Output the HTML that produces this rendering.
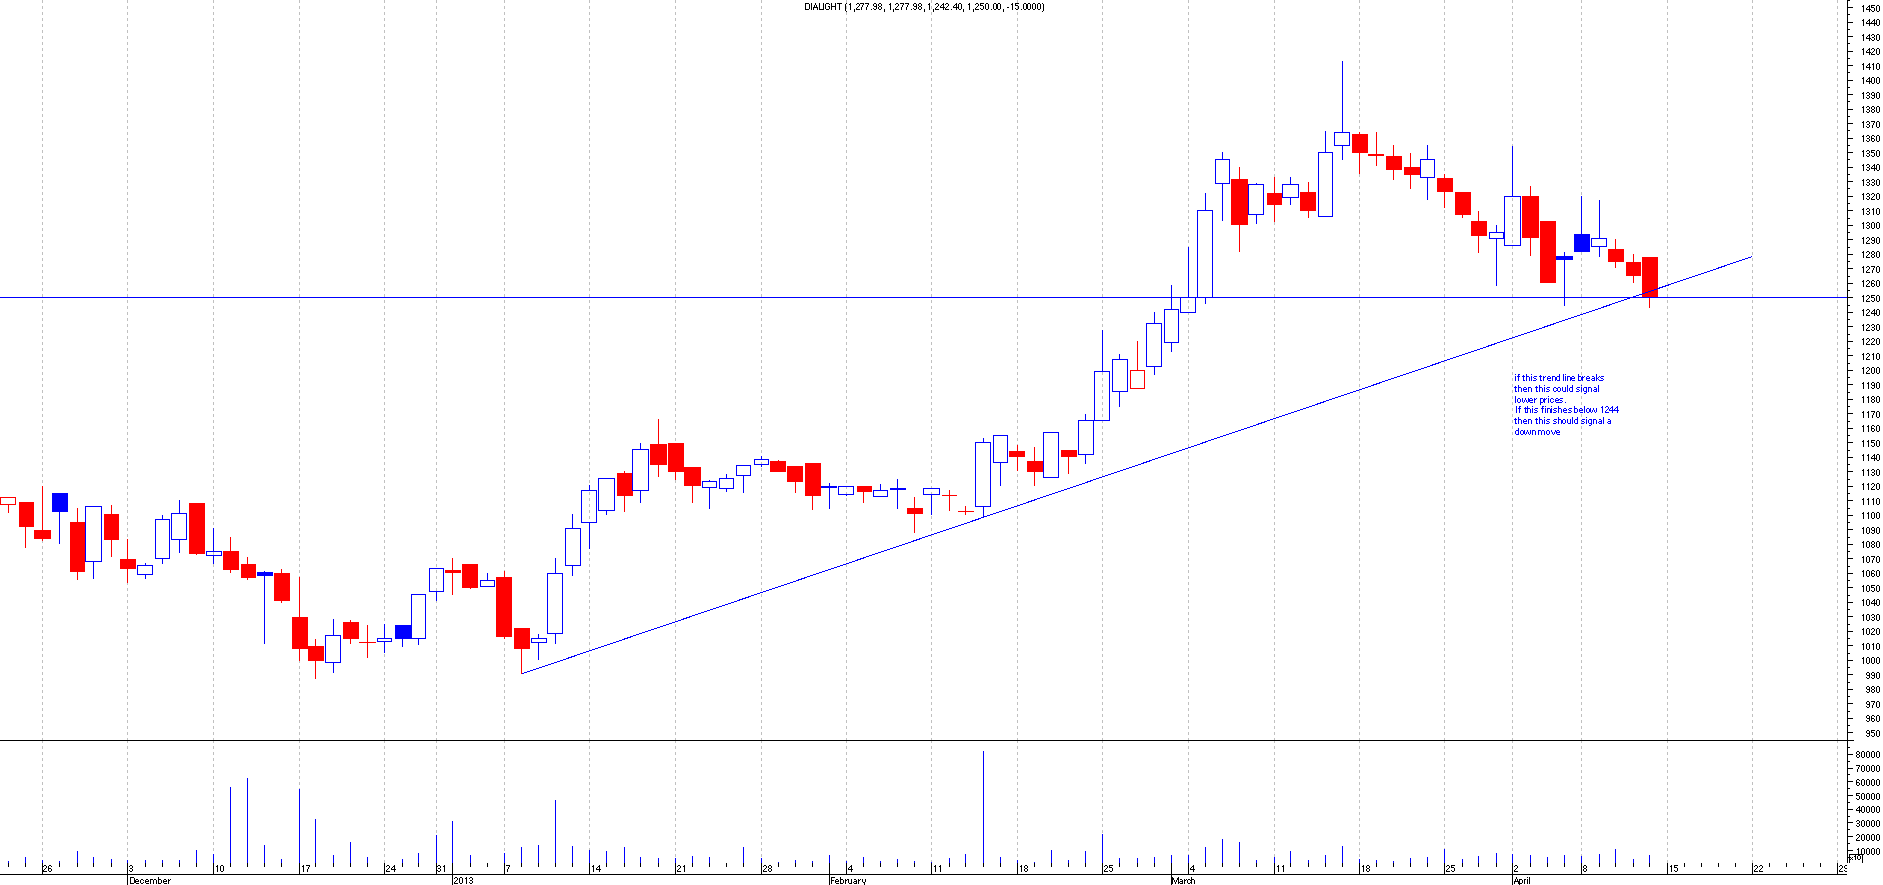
<!DOCTYPE html>
<html><head><meta charset="utf-8"><title>DIALIGHT</title>
<style>html,body{margin:0;padding:0;background:#fff;overflow:hidden}body{width:1883px;height:885px;font-family:"Liberation Sans",sans-serif}</style></head>
<body>
<svg width="1883" height="885" viewBox="0 0 1883 885" shape-rendering="crispEdges" style="display:block">
<rect width="1883" height="885" fill="#fff"/>
<defs>
<path id="d0" d="M1 0h2v1h-2zM0 1h1v1h-1zM3 1h1v1h-1zM0 2h1v1h-1zM3 2h1v1h-1zM0 3h1v1h-1zM3 3h1v1h-1zM0 4h1v1h-1zM3 4h1v1h-1zM0 5h1v1h-1zM3 5h1v1h-1zM1 6h2v1h-2z"/>
<path id="d1" d="M2 0h1v1h-1zM1 1h2v1h-2zM2 2h1v1h-1zM2 3h1v1h-1zM2 4h1v1h-1zM2 5h1v1h-1zM2 6h1v1h-1z"/>
<path id="d2" d="M1 0h2v1h-2zM0 1h1v1h-1zM3 1h1v1h-1zM3 2h1v1h-1zM2 3h1v1h-1zM1 4h1v1h-1zM0 5h1v1h-1zM0 6h4v1h-4z"/>
<path id="d3" d="M1 0h2v1h-2zM0 1h1v1h-1zM3 1h1v1h-1zM3 2h1v1h-1zM1 3h2v1h-2zM3 4h1v1h-1zM0 5h1v1h-1zM3 5h1v1h-1zM1 6h2v1h-2z"/>
<path id="d4" d="M3 0h1v1h-1zM2 1h2v1h-2zM1 2h1v1h-1zM3 2h1v1h-1zM0 3h1v1h-1zM3 3h1v1h-1zM0 4h5v1h-5zM3 5h1v1h-1zM3 6h1v1h-1z"/>
<path id="d5" d="M0 0h4v1h-4zM0 1h1v1h-1zM0 2h3v1h-3zM3 3h1v1h-1zM3 4h1v1h-1zM0 5h1v1h-1zM3 5h1v1h-1zM1 6h2v1h-2z"/>
<path id="d6" d="M1 0h2v1h-2zM0 1h1v1h-1zM3 1h1v1h-1zM0 2h1v1h-1zM0 3h3v1h-3zM0 4h1v1h-1zM3 4h1v1h-1zM0 5h1v1h-1zM3 5h1v1h-1zM1 6h2v1h-2z"/>
<path id="d7" d="M0 0h4v1h-4zM3 1h1v1h-1zM2 2h1v1h-1zM2 3h1v1h-1zM1 4h1v1h-1zM1 5h1v1h-1zM1 6h1v1h-1z"/>
<path id="d8" d="M1 0h2v1h-2zM0 1h1v1h-1zM3 1h1v1h-1zM0 2h1v1h-1zM3 2h1v1h-1zM1 3h2v1h-2zM0 4h1v1h-1zM3 4h1v1h-1zM0 5h1v1h-1zM3 5h1v1h-1zM1 6h2v1h-2z"/>
<path id="d9" d="M1 0h2v1h-2zM0 1h1v1h-1zM3 1h1v1h-1zM0 2h1v1h-1zM3 2h1v1h-1zM1 3h3v1h-3zM3 4h1v1h-1zM0 5h1v1h-1zM3 5h1v1h-1zM1 6h2v1h-2z"/>
<path id="g28" d="M1 0h1v1h-1zM0 1h1v1h-1zM0 2h1v1h-1zM0 3h1v1h-1zM0 4h1v1h-1zM0 5h1v1h-1zM0 6h1v1h-1zM0 7h1v1h-1zM1 8h1v1h-1z"/><path id="g29" d="M0 0h1v1h-1zM1 1h1v1h-1zM1 2h1v1h-1zM1 3h1v1h-1zM1 4h1v1h-1zM1 5h1v1h-1zM1 6h1v1h-1zM1 7h1v1h-1zM0 8h1v1h-1z"/><path id="g2c" d="M0 6h1v1h-1zM0 7h1v1h-1zM0 8h1v1h-1z"/><path id="g2d" d="M0 4h2v1h-2z"/><path id="g2e" d="M0 6h1v1h-1z"/><path id="g30" d="M1 0h2v1h-2zM0 1h1v1h-1zM3 1h1v1h-1zM0 2h1v1h-1zM3 2h1v1h-1zM0 3h1v1h-1zM3 3h1v1h-1zM0 4h1v1h-1zM3 4h1v1h-1zM0 5h1v1h-1zM3 5h1v1h-1zM1 6h2v1h-2z"/><path id="g31" d="M1 0h1v1h-1zM0 1h2v1h-2zM1 2h1v1h-1zM1 3h1v1h-1zM1 4h1v1h-1zM1 5h1v1h-1zM1 6h1v1h-1z"/><path id="g32" d="M1 0h2v1h-2zM0 1h1v1h-1zM3 1h1v1h-1zM3 2h1v1h-1zM2 3h1v1h-1zM1 4h1v1h-1zM0 5h1v1h-1zM0 6h4v1h-4z"/><path id="g33" d="M1 0h2v1h-2zM0 1h1v1h-1zM3 1h1v1h-1zM3 2h1v1h-1zM1 3h2v1h-2zM3 4h1v1h-1zM0 5h1v1h-1zM3 5h1v1h-1zM1 6h2v1h-2z"/><path id="g34" d="M3 0h1v1h-1zM2 1h2v1h-2zM1 2h1v1h-1zM3 2h1v1h-1zM0 3h1v1h-1zM3 3h1v1h-1zM0 4h5v1h-5zM3 5h1v1h-1zM3 6h1v1h-1z"/><path id="g35" d="M0 0h4v1h-4zM0 1h1v1h-1zM0 2h3v1h-3zM3 3h1v1h-1zM3 4h1v1h-1zM0 5h1v1h-1zM3 5h1v1h-1zM1 6h2v1h-2z"/><path id="g36" d="M1 0h2v1h-2zM0 1h1v1h-1zM3 1h1v1h-1zM0 2h1v1h-1zM0 3h3v1h-3zM0 4h1v1h-1zM3 4h1v1h-1zM0 5h1v1h-1zM3 5h1v1h-1zM1 6h2v1h-2z"/><path id="g37" d="M0 0h4v1h-4zM3 1h1v1h-1zM2 2h1v1h-1zM2 3h1v1h-1zM1 4h1v1h-1zM1 5h1v1h-1zM1 6h1v1h-1z"/><path id="g38" d="M1 0h2v1h-2zM0 1h1v1h-1zM3 1h1v1h-1zM0 2h1v1h-1zM3 2h1v1h-1zM1 3h2v1h-2zM0 4h1v1h-1zM3 4h1v1h-1zM0 5h1v1h-1zM3 5h1v1h-1zM1 6h2v1h-2z"/><path id="g39" d="M1 0h2v1h-2zM0 1h1v1h-1zM3 1h1v1h-1zM0 2h1v1h-1zM3 2h1v1h-1zM1 3h3v1h-3zM3 4h1v1h-1zM0 5h1v1h-1zM3 5h1v1h-1zM1 6h2v1h-2z"/><path id="g41" d="M2 0h1v1h-1zM2 1h1v1h-1zM1 2h1v1h-1zM3 2h1v1h-1zM1 3h1v1h-1zM3 3h1v1h-1zM0 4h5v1h-5zM0 5h1v1h-1zM4 5h1v1h-1zM0 6h1v1h-1zM4 6h1v1h-1z"/><path id="g44" d="M0 0h4v1h-4zM0 1h1v1h-1zM4 1h1v1h-1zM0 2h1v1h-1zM4 2h1v1h-1zM0 3h1v1h-1zM4 3h1v1h-1zM0 4h1v1h-1zM4 4h1v1h-1zM0 5h1v1h-1zM4 5h1v1h-1zM0 6h4v1h-4z"/><path id="g46" d="M0 0h4v1h-4zM0 1h1v1h-1zM0 2h1v1h-1zM0 3h3v1h-3zM0 4h1v1h-1zM0 5h1v1h-1zM0 6h1v1h-1z"/><path id="g47" d="M1 0h3v1h-3zM0 1h1v1h-1zM4 1h1v1h-1zM0 2h1v1h-1zM0 3h1v1h-1zM3 3h2v1h-2zM0 4h1v1h-1zM4 4h1v1h-1zM0 5h1v1h-1zM4 5h1v1h-1zM1 6h3v1h-3z"/><path id="g48" d="M0 0h1v1h-1zM4 0h1v1h-1zM0 1h1v1h-1zM4 1h1v1h-1zM0 2h1v1h-1zM4 2h1v1h-1zM0 3h5v1h-5zM0 4h1v1h-1zM4 4h1v1h-1zM0 5h1v1h-1zM4 5h1v1h-1zM0 6h1v1h-1zM4 6h1v1h-1z"/><path id="g49" d="M0 0h1v1h-1zM0 1h1v1h-1zM0 2h1v1h-1zM0 3h1v1h-1zM0 4h1v1h-1zM0 5h1v1h-1zM0 6h1v1h-1z"/><path id="g4c" d="M0 0h1v1h-1zM0 1h1v1h-1zM0 2h1v1h-1zM0 3h1v1h-1zM0 4h1v1h-1zM0 5h1v1h-1zM0 6h4v1h-4z"/><path id="g4d" d="M0 0h1v1h-1zM6 0h1v1h-1zM0 1h2v1h-2zM5 1h2v1h-2zM0 2h2v1h-2zM5 2h2v1h-2zM0 3h1v1h-1zM2 3h1v1h-1zM4 3h1v1h-1zM6 3h1v1h-1zM0 4h1v1h-1zM2 4h1v1h-1zM4 4h1v1h-1zM6 4h1v1h-1zM0 5h1v1h-1zM3 5h1v1h-1zM6 5h1v1h-1zM0 6h1v1h-1zM3 6h1v1h-1zM6 6h1v1h-1z"/><path id="g54" d="M0 0h5v1h-5zM2 1h1v1h-1zM2 2h1v1h-1zM2 3h1v1h-1zM2 4h1v1h-1zM2 5h1v1h-1zM2 6h1v1h-1z"/><path id="g61" d="M1 2h2v1h-2zM3 3h1v1h-1zM1 4h3v1h-3zM0 5h1v1h-1zM3 5h1v1h-1zM1 6h3v1h-3z"/><path id="g62" d="M0 0h1v1h-1zM0 1h1v1h-1zM0 2h3v1h-3zM0 3h1v1h-1zM3 3h1v1h-1zM0 4h1v1h-1zM3 4h1v1h-1zM0 5h1v1h-1zM3 5h1v1h-1zM0 6h3v1h-3z"/><path id="g63" d="M1 2h2v1h-2zM0 3h1v1h-1zM3 3h1v1h-1zM0 4h1v1h-1zM0 5h1v1h-1zM3 5h1v1h-1zM1 6h2v1h-2z"/><path id="g64" d="M3 0h1v1h-1zM3 1h1v1h-1zM1 2h3v1h-3zM0 3h1v1h-1zM3 3h1v1h-1zM0 4h1v1h-1zM3 4h1v1h-1zM0 5h1v1h-1zM3 5h1v1h-1zM1 6h3v1h-3z"/><path id="g65" d="M1 2h2v1h-2zM0 3h1v1h-1zM3 3h1v1h-1zM0 4h4v1h-4zM0 5h1v1h-1zM1 6h3v1h-3z"/><path id="g66" d="M1 0h2v1h-2zM1 1h1v1h-1zM0 2h3v1h-3zM1 3h1v1h-1zM1 4h1v1h-1zM1 5h1v1h-1zM1 6h1v1h-1z"/><path id="g67" d="M1 2h3v1h-3zM0 3h1v1h-1zM3 3h1v1h-1zM0 4h1v1h-1zM3 4h1v1h-1zM0 5h1v1h-1zM3 5h1v1h-1zM1 6h3v1h-3zM3 7h1v1h-1zM1 8h2v1h-2z"/><path id="g68" d="M0 0h1v1h-1zM0 1h1v1h-1zM0 2h3v1h-3zM0 3h1v1h-1zM3 3h1v1h-1zM0 4h1v1h-1zM3 4h1v1h-1zM0 5h1v1h-1zM3 5h1v1h-1zM0 6h1v1h-1zM3 6h1v1h-1z"/><path id="g69" d="M0 0h1v1h-1zM0 2h1v1h-1zM0 3h1v1h-1zM0 4h1v1h-1zM0 5h1v1h-1zM0 6h1v1h-1z"/><path id="g6b" d="M0 0h1v1h-1zM0 1h1v1h-1zM0 2h1v1h-1zM3 2h1v1h-1zM0 3h1v1h-1zM2 3h1v1h-1zM0 4h2v1h-2zM0 5h1v1h-1zM2 5h1v1h-1zM0 6h1v1h-1zM3 6h1v1h-1z"/><path id="g6c" d="M0 0h1v1h-1zM0 1h1v1h-1zM0 2h1v1h-1zM0 3h1v1h-1zM0 4h1v1h-1zM0 5h1v1h-1zM0 6h1v1h-1z"/><path id="g6d" d="M0 2h3v1h-3zM4 2h2v1h-2zM0 3h1v1h-1zM3 3h1v1h-1zM6 3h1v1h-1zM0 4h1v1h-1zM3 4h1v1h-1zM6 4h1v1h-1zM0 5h1v1h-1zM3 5h1v1h-1zM6 5h1v1h-1zM0 6h1v1h-1zM3 6h1v1h-1zM6 6h1v1h-1z"/><path id="g6e" d="M0 2h3v1h-3zM0 3h1v1h-1zM3 3h1v1h-1zM0 4h1v1h-1zM3 4h1v1h-1zM0 5h1v1h-1zM3 5h1v1h-1zM0 6h1v1h-1zM3 6h1v1h-1z"/><path id="g6f" d="M1 2h2v1h-2zM0 3h1v1h-1zM3 3h1v1h-1zM0 4h1v1h-1zM3 4h1v1h-1zM0 5h1v1h-1zM3 5h1v1h-1zM1 6h2v1h-2z"/><path id="g70" d="M0 2h3v1h-3zM0 3h1v1h-1zM3 3h1v1h-1zM0 4h1v1h-1zM3 4h1v1h-1zM0 5h1v1h-1zM3 5h1v1h-1zM0 6h3v1h-3zM0 7h1v1h-1zM0 8h1v1h-1z"/><path id="g71" d="M0 2h2v1h-2zM0 3h1v1h-1zM0 4h1v1h-1zM0 5h1v1h-1zM0 6h1v1h-1z"/><path id="g72" d="M0 2h1v1h-1zM2 2h1v1h-1zM0 3h2v1h-2zM0 4h1v1h-1zM0 5h1v1h-1zM0 6h1v1h-1z"/><path id="g73" d="M1 2h3v1h-3zM0 3h1v1h-1zM1 4h2v1h-2zM3 5h1v1h-1zM0 6h3v1h-3z"/><path id="g74" d="M1 1h1v1h-1zM0 2h3v1h-3zM1 3h1v1h-1zM1 4h1v1h-1zM1 5h1v1h-1zM1 6h2v1h-2z"/><path id="g75" d="M0 2h1v1h-1zM3 2h1v1h-1zM0 3h1v1h-1zM3 3h1v1h-1zM0 4h1v1h-1zM3 4h1v1h-1zM0 5h1v1h-1zM3 5h1v1h-1zM1 6h3v1h-3z"/><path id="g76" d="M0 2h1v1h-1zM4 2h1v1h-1zM0 3h1v1h-1zM4 3h1v1h-1zM1 4h1v1h-1zM3 4h1v1h-1zM1 5h1v1h-1zM3 5h1v1h-1zM2 6h1v1h-1z"/><path id="g77" d="M0 2h1v1h-1zM3 2h1v1h-1zM6 2h1v1h-1zM0 3h1v1h-1zM3 3h1v1h-1zM6 3h1v1h-1zM0 4h1v1h-1zM2 4h1v1h-1zM4 4h1v1h-1zM6 4h1v1h-1zM0 5h1v1h-1zM2 5h1v1h-1zM4 5h1v1h-1zM6 5h1v1h-1zM1 6h1v1h-1zM5 6h1v1h-1z"/><path id="g79" d="M0 2h1v1h-1zM3 2h1v1h-1zM0 3h1v1h-1zM3 3h1v1h-1zM0 4h1v1h-1zM3 4h1v1h-1zM1 5h2v1h-2zM2 6h1v1h-1zM2 7h1v1h-1zM0 8h2v1h-2z"/>
<filter id="gs" x="0" y="0" width="100%" height="100%" filterUnits="userSpaceOnUse"><feOffset dx="0" dy="0"/></filter>
</defs>
<g stroke="#c0c0c0" stroke-width="1" stroke-dasharray="3 3" fill="none">
<path d="M42.5 0V740"/><path d="M42.5 740V863"/>
<path d="M127.5 0V740"/><path d="M127.5 740V863"/>
<path d="M213.5 0V740"/><path d="M213.5 740V863"/>
<path d="M299.5 0V740"/><path d="M299.5 740V863"/>
<path d="M384.5 0V740"/><path d="M384.5 740V863"/>
<path d="M436.5 0V740"/><path d="M436.5 740V863"/>
<path d="M504.5 0V740"/><path d="M504.5 740V863"/>
<path d="M589.5 0V740"/><path d="M589.5 740V863"/>
<path d="M675.5 0V740"/><path d="M675.5 740V863"/>
<path d="M761.5 0V740"/><path d="M761.5 740V863"/>
<path d="M846.5 0V740"/><path d="M846.5 740V863"/>
<path d="M931.5 0V740"/><path d="M931.5 740V863"/>
<path d="M1017.5 0V740"/><path d="M1017.5 740V863"/>
<path d="M1102.5 0V740"/><path d="M1102.5 740V863"/>
<path d="M1188.5 0V740"/><path d="M1188.5 740V863"/>
<path d="M1274.5 0V740"/><path d="M1274.5 740V863"/>
<path d="M1359.5 0V740"/><path d="M1359.5 740V863"/>
<path d="M1444.5 0V740"/><path d="M1444.5 740V863"/>
<path d="M1512.5 0V740"/><path d="M1512.5 740V863"/>
<path d="M1581.5 0V740"/><path d="M1581.5 740V863"/>
<path d="M1667.5 0V740"/><path d="M1667.5 740V863"/>
<path d="M1752.5 0V740"/><path d="M1752.5 740V863"/>
<path d="M1837.5 0V740"/><path d="M1837.5 740V863"/>
</g>
<rect x="0.5" y="497.5" width="15" height="7" fill="none" stroke="#ff0000" stroke-width="1"/>
<rect x="8" y="505" width="1" height="8" fill="#ff0000"/>
<rect x="19" y="502" width="15" height="25" fill="#ff0000"/>
<rect x="25" y="527" width="1" height="21" fill="#ff0000"/>
<rect x="34" y="530" width="17" height="9" fill="#ff0000"/>
<rect x="42" y="486" width="1" height="44" fill="#ff0000"/>
<rect x="42" y="539" width="1" height="2" fill="#ff0000"/>
<rect x="52" y="493" width="16" height="19" fill="#0000ff"/>
<rect x="59" y="512" width="1" height="32" fill="#0000ff"/>
<rect x="70" y="522" width="15" height="50" fill="#ff0000"/>
<rect x="77" y="508" width="1" height="14" fill="#ff0000"/>
<rect x="77" y="572" width="1" height="8" fill="#ff0000"/>
<rect x="85.5" y="506.5" width="16" height="55" fill="none" stroke="#0000ff" stroke-width="1"/>
<rect x="93" y="562" width="1" height="17" fill="#0000ff"/>
<rect x="104" y="514" width="15" height="26" fill="#ff0000"/>
<rect x="111" y="505" width="1" height="9" fill="#ff0000"/>
<rect x="111" y="540" width="1" height="17" fill="#ff0000"/>
<rect x="120" y="559" width="16" height="10" fill="#ff0000"/>
<rect x="127" y="539" width="1" height="20" fill="#ff0000"/>
<rect x="127" y="569" width="1" height="14" fill="#ff0000"/>
<rect x="137.5" y="565.5" width="15" height="9" fill="none" stroke="#0000ff" stroke-width="1"/>
<rect x="145" y="563" width="1" height="2" fill="#0000ff"/>
<rect x="145" y="575" width="1" height="4" fill="#0000ff"/>
<rect x="155.5" y="519.5" width="14" height="39" fill="none" stroke="#0000ff" stroke-width="1"/>
<rect x="162" y="515" width="1" height="4" fill="#0000ff"/>
<rect x="162" y="559" width="1" height="5" fill="#0000ff"/>
<rect x="171.5" y="513.5" width="15" height="26" fill="none" stroke="#0000ff" stroke-width="1"/>
<rect x="179" y="500" width="1" height="13" fill="#0000ff"/>
<rect x="179" y="540" width="1" height="13" fill="#0000ff"/>
<rect x="189" y="503" width="16" height="51" fill="#ff0000"/>
<rect x="196" y="554" width="1" height="1" fill="#ff0000"/>
<rect x="206.5" y="551.5" width="15" height="4" fill="none" stroke="#0000ff" stroke-width="1"/>
<rect x="213" y="528" width="1" height="23" fill="#0000ff"/>
<rect x="213" y="556" width="1" height="8" fill="#0000ff"/>
<rect x="223" y="551" width="16" height="19" fill="#ff0000"/>
<rect x="230" y="537" width="1" height="14" fill="#ff0000"/>
<rect x="230" y="570" width="1" height="3" fill="#ff0000"/>
<rect x="241" y="564" width="15" height="14" fill="#ff0000"/>
<rect x="247" y="557" width="1" height="7" fill="#ff0000"/>
<rect x="247" y="578" width="1" height="2" fill="#ff0000"/>
<rect x="257" y="572" width="16" height="4" fill="#0000ff"/>
<rect x="264" y="571" width="1" height="1" fill="#0000ff"/>
<rect x="264" y="576" width="1" height="68" fill="#0000ff"/>
<rect x="274" y="573" width="16" height="28" fill="#ff0000"/>
<rect x="281" y="569" width="1" height="4" fill="#ff0000"/>
<rect x="281" y="601" width="1" height="2" fill="#ff0000"/>
<rect x="292" y="617" width="16" height="32" fill="#ff0000"/>
<rect x="299" y="577" width="1" height="40" fill="#ff0000"/>
<rect x="299" y="649" width="1" height="12" fill="#ff0000"/>
<rect x="308" y="646" width="16" height="15" fill="#ff0000"/>
<rect x="315" y="639" width="1" height="7" fill="#ff0000"/>
<rect x="315" y="661" width="1" height="18" fill="#ff0000"/>
<rect x="325.5" y="635.5" width="15" height="27" fill="none" stroke="#0000ff" stroke-width="1"/>
<rect x="333" y="619" width="1" height="16" fill="#0000ff"/>
<rect x="333" y="663" width="1" height="10" fill="#0000ff"/>
<rect x="343" y="622" width="16" height="17" fill="#ff0000"/>
<rect x="350" y="620" width="1" height="2" fill="#ff0000"/>
<rect x="350" y="639" width="1" height="5" fill="#ff0000"/>
<rect x="359" y="642" width="17" height="1" fill="#ff0000"/>
<rect x="367" y="625" width="1" height="33" fill="#ff0000"/>
<rect x="377.5" y="638.5" width="14" height="3" fill="none" stroke="#0000ff" stroke-width="1"/>
<rect x="384" y="624" width="1" height="14" fill="#0000ff"/>
<rect x="384" y="642" width="1" height="11" fill="#0000ff"/>
<rect x="395" y="625" width="16" height="14" fill="#0000ff"/>
<rect x="402" y="639" width="1" height="8" fill="#0000ff"/>
<rect x="411.5" y="594.5" width="14" height="44" fill="none" stroke="#0000ff" stroke-width="1"/>
<rect x="418" y="639" width="1" height="6" fill="#0000ff"/>
<rect x="429.5" y="568.5" width="14" height="23" fill="none" stroke="#0000ff" stroke-width="1"/>
<rect x="436" y="592" width="1" height="9" fill="#0000ff"/>
<rect x="445" y="570" width="16" height="3" fill="#ff0000"/>
<rect x="452" y="558" width="1" height="12" fill="#ff0000"/>
<rect x="452" y="573" width="1" height="22" fill="#ff0000"/>
<rect x="462" y="564" width="16" height="24" fill="#ff0000"/>
<rect x="470" y="588" width="1" height="1" fill="#ff0000"/>
<rect x="480.5" y="580.5" width="14" height="6" fill="none" stroke="#0000ff" stroke-width="1"/>
<rect x="487" y="573" width="1" height="7" fill="#0000ff"/>
<rect x="496" y="577" width="16" height="60" fill="#ff0000"/>
<rect x="504" y="571" width="1" height="6" fill="#ff0000"/>
<rect x="504" y="637" width="1" height="2" fill="#ff0000"/>
<rect x="514" y="628" width="16" height="21" fill="#ff0000"/>
<rect x="521" y="649" width="1" height="25" fill="#ff0000"/>
<rect x="531.5" y="638.5" width="15" height="4" fill="none" stroke="#0000ff" stroke-width="1"/>
<rect x="538" y="634" width="1" height="4" fill="#0000ff"/>
<rect x="538" y="643" width="1" height="17" fill="#0000ff"/>
<rect x="547.5" y="573.5" width="15" height="60" fill="none" stroke="#0000ff" stroke-width="1"/>
<rect x="555" y="558" width="1" height="15" fill="#0000ff"/>
<rect x="555" y="634" width="1" height="10" fill="#0000ff"/>
<rect x="565.5" y="528.5" width="15" height="37" fill="none" stroke="#0000ff" stroke-width="1"/>
<rect x="572" y="514" width="1" height="14" fill="#0000ff"/>
<rect x="572" y="566" width="1" height="10" fill="#0000ff"/>
<rect x="581.5" y="490.5" width="15" height="32" fill="none" stroke="#0000ff" stroke-width="1"/>
<rect x="589" y="485" width="1" height="5" fill="#0000ff"/>
<rect x="589" y="523" width="1" height="26" fill="#0000ff"/>
<rect x="598.5" y="478.5" width="16" height="32" fill="none" stroke="#0000ff" stroke-width="1"/>
<rect x="606" y="511" width="1" height="4" fill="#0000ff"/>
<rect x="617" y="473" width="16" height="23" fill="#ff0000"/>
<rect x="624" y="471" width="1" height="2" fill="#ff0000"/>
<rect x="624" y="496" width="1" height="16" fill="#ff0000"/>
<rect x="632.5" y="449.5" width="16" height="41" fill="none" stroke="#0000ff" stroke-width="1"/>
<rect x="640" y="443" width="1" height="6" fill="#0000ff"/>
<rect x="640" y="491" width="1" height="12" fill="#0000ff"/>
<rect x="650" y="444" width="17" height="21" fill="#ff0000"/>
<rect x="658" y="419" width="1" height="25" fill="#ff0000"/>
<rect x="658" y="465" width="1" height="12" fill="#ff0000"/>
<rect x="668" y="443" width="16" height="29" fill="#ff0000"/>
<rect x="675" y="472" width="1" height="8" fill="#ff0000"/>
<rect x="684" y="467" width="17" height="19" fill="#ff0000"/>
<rect x="692" y="486" width="1" height="17" fill="#ff0000"/>
<rect x="702.5" y="481.5" width="14" height="6" fill="none" stroke="#0000ff" stroke-width="1"/>
<rect x="709" y="480" width="1" height="1" fill="#0000ff"/>
<rect x="709" y="488" width="1" height="21" fill="#0000ff"/>
<rect x="719.5" y="478.5" width="14" height="10" fill="none" stroke="#0000ff" stroke-width="1"/>
<rect x="726" y="474" width="1" height="4" fill="#0000ff"/>
<rect x="726" y="489" width="1" height="3" fill="#0000ff"/>
<rect x="736.5" y="465.5" width="14" height="10" fill="none" stroke="#0000ff" stroke-width="1"/>
<rect x="743" y="476" width="1" height="17" fill="#0000ff"/>
<rect x="754.5" y="459.5" width="14" height="5" fill="none" stroke="#0000ff" stroke-width="1"/>
<rect x="761" y="456" width="1" height="3" fill="#0000ff"/>
<rect x="761" y="465" width="1" height="2" fill="#0000ff"/>
<rect x="770" y="461" width="16" height="11" fill="#ff0000"/>
<rect x="778" y="460" width="1" height="1" fill="#ff0000"/>
<rect x="787" y="466" width="16" height="16" fill="#ff0000"/>
<rect x="795" y="482" width="1" height="11" fill="#ff0000"/>
<rect x="805" y="463" width="16" height="33" fill="#ff0000"/>
<rect x="812" y="496" width="1" height="14" fill="#ff0000"/>
<rect x="821" y="486" width="16" height="2" fill="#0000ff"/>
<rect x="829" y="483" width="1" height="3" fill="#0000ff"/>
<rect x="829" y="488" width="1" height="21" fill="#0000ff"/>
<rect x="838.5" y="486.5" width="15" height="8" fill="none" stroke="#0000ff" stroke-width="1"/>
<rect x="846" y="495" width="1" height="1" fill="#0000ff"/>
<rect x="857" y="486" width="15" height="6" fill="#ff0000"/>
<rect x="863" y="492" width="1" height="11" fill="#ff0000"/>
<rect x="873.5" y="490.5" width="14" height="6" fill="none" stroke="#0000ff" stroke-width="1"/>
<rect x="880" y="484" width="1" height="6" fill="#0000ff"/>
<rect x="890" y="488" width="16" height="2" fill="#0000ff"/>
<rect x="897" y="479" width="1" height="9" fill="#0000ff"/>
<rect x="897" y="490" width="1" height="19" fill="#0000ff"/>
<rect x="907" y="508" width="16" height="6" fill="#ff0000"/>
<rect x="914" y="497" width="1" height="11" fill="#ff0000"/>
<rect x="914" y="514" width="1" height="19" fill="#ff0000"/>
<rect x="923.5" y="488.5" width="16" height="6" fill="none" stroke="#0000ff" stroke-width="1"/>
<rect x="931" y="495" width="1" height="20" fill="#0000ff"/>
<rect x="942" y="495" width="15" height="1" fill="#ff0000"/>
<rect x="949" y="490" width="1" height="21" fill="#ff0000"/>
<rect x="958" y="511" width="16" height="1" fill="#ff0000"/>
<rect x="965" y="506" width="1" height="9" fill="#ff0000"/>
<rect x="975.5" y="442.5" width="15" height="64" fill="none" stroke="#0000ff" stroke-width="1"/>
<rect x="983" y="438" width="1" height="4" fill="#0000ff"/>
<rect x="983" y="507" width="1" height="10" fill="#0000ff"/>
<rect x="993.5" y="435.5" width="14" height="27" fill="none" stroke="#0000ff" stroke-width="1"/>
<rect x="1000" y="463" width="1" height="23" fill="#0000ff"/>
<rect x="1009" y="451" width="16" height="6" fill="#ff0000"/>
<rect x="1017" y="445" width="1" height="6" fill="#ff0000"/>
<rect x="1017" y="457" width="1" height="14" fill="#ff0000"/>
<rect x="1027" y="461" width="16" height="11" fill="#ff0000"/>
<rect x="1034" y="447" width="1" height="14" fill="#ff0000"/>
<rect x="1034" y="472" width="1" height="14" fill="#ff0000"/>
<rect x="1043.5" y="432.5" width="15" height="45" fill="none" stroke="#0000ff" stroke-width="1"/>
<rect x="1061" y="450" width="16" height="7" fill="#ff0000"/>
<rect x="1068" y="457" width="1" height="17" fill="#ff0000"/>
<rect x="1078.5" y="420.5" width="15" height="34" fill="none" stroke="#0000ff" stroke-width="1"/>
<rect x="1085" y="414" width="1" height="6" fill="#0000ff"/>
<rect x="1085" y="455" width="1" height="9" fill="#0000ff"/>
<rect x="1094.5" y="371.5" width="15" height="49" fill="none" stroke="#0000ff" stroke-width="1"/>
<rect x="1102" y="330" width="1" height="41" fill="#0000ff"/>
<rect x="1112.5" y="359.5" width="15" height="32" fill="none" stroke="#0000ff" stroke-width="1"/>
<rect x="1119" y="354" width="1" height="5" fill="#0000ff"/>
<rect x="1119" y="392" width="1" height="15" fill="#0000ff"/>
<rect x="1130.5" y="370.5" width="14" height="18" fill="none" stroke="#ff0000" stroke-width="1"/>
<rect x="1137" y="341" width="1" height="29" fill="#ff0000"/>
<rect x="1146.5" y="323.5" width="15" height="43" fill="none" stroke="#0000ff" stroke-width="1"/>
<rect x="1154" y="312" width="1" height="11" fill="#0000ff"/>
<rect x="1154" y="367" width="1" height="8" fill="#0000ff"/>
<rect x="1164.5" y="309.5" width="14" height="33" fill="none" stroke="#0000ff" stroke-width="1"/>
<rect x="1171" y="285" width="1" height="24" fill="#0000ff"/>
<rect x="1171" y="343" width="1" height="9" fill="#0000ff"/>
<rect x="1180.5" y="297.5" width="15" height="15" fill="none" stroke="#0000ff" stroke-width="1"/>
<rect x="1188" y="247" width="1" height="50" fill="#0000ff"/>
<rect x="1197.5" y="210.5" width="15" height="87" fill="none" stroke="#0000ff" stroke-width="1"/>
<rect x="1205" y="193" width="1" height="17" fill="#0000ff"/>
<rect x="1205" y="298" width="1" height="6" fill="#0000ff"/>
<rect x="1215.5" y="159.5" width="14" height="24" fill="none" stroke="#0000ff" stroke-width="1"/>
<rect x="1222" y="152" width="1" height="7" fill="#0000ff"/>
<rect x="1222" y="184" width="1" height="37" fill="#0000ff"/>
<rect x="1231" y="179" width="17" height="46" fill="#ff0000"/>
<rect x="1239" y="167" width="1" height="12" fill="#ff0000"/>
<rect x="1239" y="225" width="1" height="27" fill="#ff0000"/>
<rect x="1248.5" y="184.5" width="15" height="30" fill="none" stroke="#0000ff" stroke-width="1"/>
<rect x="1256" y="183" width="1" height="1" fill="#0000ff"/>
<rect x="1256" y="215" width="1" height="9" fill="#0000ff"/>
<rect x="1267" y="193" width="15" height="12" fill="#ff0000"/>
<rect x="1274" y="177" width="1" height="16" fill="#ff0000"/>
<rect x="1274" y="205" width="1" height="17" fill="#ff0000"/>
<rect x="1282.5" y="184.5" width="16" height="13" fill="none" stroke="#0000ff" stroke-width="1"/>
<rect x="1290" y="177" width="1" height="7" fill="#0000ff"/>
<rect x="1290" y="198" width="1" height="7" fill="#0000ff"/>
<rect x="1300" y="192" width="16" height="19" fill="#ff0000"/>
<rect x="1308" y="182" width="1" height="10" fill="#ff0000"/>
<rect x="1308" y="211" width="1" height="7" fill="#ff0000"/>
<rect x="1318.5" y="152.5" width="14" height="64" fill="none" stroke="#0000ff" stroke-width="1"/>
<rect x="1325" y="131" width="1" height="21" fill="#0000ff"/>
<rect x="1334.5" y="132.5" width="15" height="13" fill="none" stroke="#0000ff" stroke-width="1"/>
<rect x="1342" y="61" width="1" height="71" fill="#0000ff"/>
<rect x="1342" y="146" width="1" height="14" fill="#0000ff"/>
<rect x="1352" y="134" width="16" height="19" fill="#ff0000"/>
<rect x="1359" y="132" width="1" height="2" fill="#ff0000"/>
<rect x="1359" y="153" width="1" height="21" fill="#ff0000"/>
<rect x="1368" y="154" width="16" height="2" fill="#ff0000"/>
<rect x="1376" y="132" width="1" height="34" fill="#ff0000"/>
<rect x="1386" y="156" width="16" height="14" fill="#ff0000"/>
<rect x="1393" y="145" width="1" height="11" fill="#ff0000"/>
<rect x="1393" y="170" width="1" height="10" fill="#ff0000"/>
<rect x="1404" y="167" width="16" height="8" fill="#ff0000"/>
<rect x="1410" y="153" width="1" height="14" fill="#ff0000"/>
<rect x="1410" y="175" width="1" height="14" fill="#ff0000"/>
<rect x="1420.5" y="159.5" width="14" height="18" fill="none" stroke="#0000ff" stroke-width="1"/>
<rect x="1427" y="145" width="1" height="14" fill="#0000ff"/>
<rect x="1427" y="178" width="1" height="22" fill="#0000ff"/>
<rect x="1437" y="178" width="16" height="14" fill="#ff0000"/>
<rect x="1444" y="174" width="1" height="4" fill="#ff0000"/>
<rect x="1444" y="192" width="1" height="16" fill="#ff0000"/>
<rect x="1455" y="192" width="16" height="23" fill="#ff0000"/>
<rect x="1462" y="215" width="1" height="3" fill="#ff0000"/>
<rect x="1471" y="221" width="16" height="15" fill="#ff0000"/>
<rect x="1478" y="211" width="1" height="10" fill="#ff0000"/>
<rect x="1478" y="236" width="1" height="17" fill="#ff0000"/>
<rect x="1489.5" y="232.5" width="14" height="6" fill="none" stroke="#0000ff" stroke-width="1"/>
<rect x="1496" y="225" width="1" height="7" fill="#0000ff"/>
<rect x="1496" y="239" width="1" height="47" fill="#0000ff"/>
<rect x="1504.5" y="196.5" width="16" height="49" fill="none" stroke="#0000ff" stroke-width="1"/>
<rect x="1512" y="146" width="1" height="50" fill="#0000ff"/>
<rect x="1522" y="196" width="17" height="42" fill="#ff0000"/>
<rect x="1530" y="186" width="1" height="10" fill="#ff0000"/>
<rect x="1530" y="238" width="1" height="18" fill="#ff0000"/>
<rect x="1540" y="221" width="16" height="62" fill="#ff0000"/>
<rect x="1556" y="256" width="17" height="4" fill="#0000ff"/>
<rect x="1564" y="252" width="1" height="4" fill="#0000ff"/>
<rect x="1564" y="260" width="1" height="46" fill="#0000ff"/>
<rect x="1574" y="234" width="16" height="18" fill="#0000ff"/>
<rect x="1581" y="196" width="1" height="38" fill="#0000ff"/>
<rect x="1591.5" y="238.5" width="15" height="8" fill="none" stroke="#0000ff" stroke-width="1"/>
<rect x="1599" y="200" width="1" height="38" fill="#0000ff"/>
<rect x="1599" y="247" width="1" height="10" fill="#0000ff"/>
<rect x="1608" y="249" width="16" height="13" fill="#ff0000"/>
<rect x="1615" y="239" width="1" height="10" fill="#ff0000"/>
<rect x="1615" y="262" width="1" height="6" fill="#ff0000"/>
<rect x="1626" y="262" width="15" height="14" fill="#ff0000"/>
<rect x="1633" y="254" width="1" height="8" fill="#ff0000"/>
<rect x="1633" y="276" width="1" height="7" fill="#ff0000"/>
<rect x="1642" y="257" width="16" height="41" fill="#ff0000"/>
<rect x="1649" y="298" width="1" height="10" fill="#ff0000"/>
<rect x="0" y="297" width="1847" height="1" fill="#0000ff"/>
<line x1="521.7" y1="673.9" x2="1752.5" y2="256.5" stroke="#0000ff" stroke-width="1"/>
<rect x="0" y="740" width="1854" height="1" fill="#000"/>
<rect x="8" y="861" width="1" height="2" fill="#0000ff"/>
<rect x="25" y="857" width="1" height="6" fill="#0000ff"/>
<rect x="42" y="860" width="1" height="3" fill="#0000ff"/>
<rect x="59" y="861" width="1" height="2" fill="#0000ff"/>
<rect x="77" y="851" width="1" height="12" fill="#0000ff"/>
<rect x="93" y="857" width="1" height="6" fill="#0000ff"/>
<rect x="111" y="859" width="1" height="4" fill="#0000ff"/>
<rect x="127" y="860" width="1" height="3" fill="#0000ff"/>
<rect x="145" y="860" width="1" height="3" fill="#0000ff"/>
<rect x="162" y="860" width="1" height="3" fill="#0000ff"/>
<rect x="179" y="860" width="1" height="3" fill="#0000ff"/>
<rect x="196" y="850" width="1" height="13" fill="#0000ff"/>
<rect x="213" y="854" width="1" height="9" fill="#0000ff"/>
<rect x="230" y="787" width="1" height="76" fill="#0000ff"/>
<rect x="247" y="778" width="1" height="85" fill="#0000ff"/>
<rect x="264" y="845" width="1" height="18" fill="#0000ff"/>
<rect x="281" y="859" width="1" height="4" fill="#0000ff"/>
<rect x="299" y="789" width="1" height="74" fill="#0000ff"/>
<rect x="315" y="819" width="1" height="44" fill="#0000ff"/>
<rect x="333" y="855" width="1" height="8" fill="#0000ff"/>
<rect x="350" y="842" width="1" height="21" fill="#0000ff"/>
<rect x="367" y="857" width="1" height="6" fill="#0000ff"/>
<rect x="402" y="859" width="1" height="4" fill="#0000ff"/>
<rect x="418" y="853" width="1" height="10" fill="#0000ff"/>
<rect x="436" y="835" width="1" height="28" fill="#0000ff"/>
<rect x="452" y="821" width="1" height="42" fill="#0000ff"/>
<rect x="470" y="855" width="1" height="8" fill="#0000ff"/>
<rect x="504" y="853" width="1" height="10" fill="#0000ff"/>
<rect x="521" y="847" width="1" height="16" fill="#0000ff"/>
<rect x="538" y="845" width="1" height="18" fill="#0000ff"/>
<rect x="555" y="800" width="1" height="63" fill="#0000ff"/>
<rect x="572" y="846" width="1" height="17" fill="#0000ff"/>
<rect x="589" y="850" width="1" height="13" fill="#0000ff"/>
<rect x="606" y="851" width="1" height="12" fill="#0000ff"/>
<rect x="624" y="847" width="1" height="16" fill="#0000ff"/>
<rect x="640" y="857" width="1" height="6" fill="#0000ff"/>
<rect x="658" y="858" width="1" height="5" fill="#0000ff"/>
<rect x="675" y="858" width="1" height="5" fill="#0000ff"/>
<rect x="692" y="856" width="1" height="7" fill="#0000ff"/>
<rect x="709" y="857" width="1" height="6" fill="#0000ff"/>
<rect x="743" y="847" width="1" height="16" fill="#0000ff"/>
<rect x="761" y="858" width="1" height="5" fill="#0000ff"/>
<rect x="778" y="862" width="1" height="1" fill="#0000ff"/>
<rect x="795" y="860" width="1" height="3" fill="#0000ff"/>
<rect x="812" y="861" width="1" height="2" fill="#0000ff"/>
<rect x="829" y="855" width="1" height="8" fill="#0000ff"/>
<rect x="846" y="861" width="1" height="2" fill="#0000ff"/>
<rect x="863" y="857" width="1" height="6" fill="#0000ff"/>
<rect x="880" y="861" width="1" height="2" fill="#0000ff"/>
<rect x="897" y="859" width="1" height="4" fill="#0000ff"/>
<rect x="914" y="861" width="1" height="2" fill="#0000ff"/>
<rect x="931" y="862" width="1" height="1" fill="#0000ff"/>
<rect x="949" y="858" width="1" height="5" fill="#0000ff"/>
<rect x="965" y="854" width="1" height="9" fill="#0000ff"/>
<rect x="983" y="751" width="1" height="112" fill="#0000ff"/>
<rect x="1000" y="857" width="1" height="6" fill="#0000ff"/>
<rect x="1017" y="860" width="1" height="3" fill="#0000ff"/>
<rect x="1034" y="862" width="1" height="1" fill="#0000ff"/>
<rect x="1051" y="850" width="1" height="13" fill="#0000ff"/>
<rect x="1068" y="860" width="1" height="3" fill="#0000ff"/>
<rect x="1085" y="851" width="1" height="12" fill="#0000ff"/>
<rect x="1102" y="834" width="1" height="29" fill="#0000ff"/>
<rect x="1119" y="858" width="1" height="5" fill="#0000ff"/>
<rect x="1137" y="858" width="1" height="5" fill="#0000ff"/>
<rect x="1154" y="857" width="1" height="6" fill="#0000ff"/>
<rect x="1171" y="855" width="1" height="8" fill="#0000ff"/>
<rect x="1188" y="855" width="1" height="8" fill="#0000ff"/>
<rect x="1205" y="847" width="1" height="16" fill="#0000ff"/>
<rect x="1222" y="839" width="1" height="24" fill="#0000ff"/>
<rect x="1239" y="842" width="1" height="21" fill="#0000ff"/>
<rect x="1256" y="860" width="1" height="3" fill="#0000ff"/>
<rect x="1274" y="857" width="1" height="6" fill="#0000ff"/>
<rect x="1290" y="851" width="1" height="12" fill="#0000ff"/>
<rect x="1308" y="860" width="1" height="3" fill="#0000ff"/>
<rect x="1325" y="855" width="1" height="8" fill="#0000ff"/>
<rect x="1342" y="846" width="1" height="17" fill="#0000ff"/>
<rect x="1359" y="859" width="1" height="4" fill="#0000ff"/>
<rect x="1376" y="860" width="1" height="3" fill="#0000ff"/>
<rect x="1393" y="861" width="1" height="2" fill="#0000ff"/>
<rect x="1410" y="858" width="1" height="5" fill="#0000ff"/>
<rect x="1427" y="857" width="1" height="6" fill="#0000ff"/>
<rect x="1444" y="849" width="1" height="14" fill="#0000ff"/>
<rect x="1462" y="859" width="1" height="4" fill="#0000ff"/>
<rect x="1478" y="856" width="1" height="7" fill="#0000ff"/>
<rect x="1496" y="853" width="1" height="10" fill="#0000ff"/>
<rect x="1512" y="854" width="1" height="9" fill="#0000ff"/>
<rect x="1530" y="855" width="1" height="8" fill="#0000ff"/>
<rect x="1547" y="857" width="1" height="6" fill="#0000ff"/>
<rect x="1564" y="855" width="1" height="8" fill="#0000ff"/>
<rect x="1581" y="856" width="1" height="7" fill="#0000ff"/>
<rect x="1599" y="854" width="1" height="9" fill="#0000ff"/>
<rect x="1615" y="849" width="1" height="14" fill="#0000ff"/>
<rect x="1633" y="859" width="1" height="4" fill="#0000ff"/>
<rect x="1649" y="855" width="1" height="8" fill="#0000ff"/>
<rect x="0" y="874" width="1847" height="1" fill="#000"/>
<rect x="8" y="863" width="1" height="4" fill="#000"/>
<rect x="25" y="863" width="1" height="4" fill="#000"/>
<rect x="42" y="863" width="1" height="11" fill="#000"/>
<rect x="59" y="863" width="1" height="4" fill="#000"/>
<rect x="77" y="863" width="1" height="4" fill="#000"/>
<rect x="93" y="863" width="1" height="4" fill="#000"/>
<rect x="111" y="863" width="1" height="4" fill="#000"/>
<rect x="127" y="863" width="1" height="22" fill="#000"/>
<rect x="145" y="863" width="1" height="4" fill="#000"/>
<rect x="162" y="863" width="1" height="4" fill="#000"/>
<rect x="179" y="863" width="1" height="4" fill="#000"/>
<rect x="196" y="863" width="1" height="4" fill="#000"/>
<rect x="213" y="863" width="1" height="11" fill="#000"/>
<rect x="230" y="863" width="1" height="4" fill="#000"/>
<rect x="247" y="863" width="1" height="4" fill="#000"/>
<rect x="264" y="863" width="1" height="4" fill="#000"/>
<rect x="281" y="863" width="1" height="4" fill="#000"/>
<rect x="299" y="863" width="1" height="11" fill="#000"/>
<rect x="315" y="863" width="1" height="4" fill="#000"/>
<rect x="333" y="863" width="1" height="4" fill="#000"/>
<rect x="350" y="863" width="1" height="4" fill="#000"/>
<rect x="367" y="863" width="1" height="4" fill="#000"/>
<rect x="384" y="863" width="1" height="11" fill="#000"/>
<rect x="402" y="863" width="1" height="4" fill="#000"/>
<rect x="418" y="863" width="1" height="4" fill="#000"/>
<rect x="436" y="863" width="1" height="11" fill="#000"/>
<rect x="452" y="863" width="1" height="22" fill="#000"/>
<rect x="470" y="863" width="1" height="4" fill="#000"/>
<rect x="487" y="863" width="1" height="4" fill="#000"/>
<rect x="504" y="863" width="1" height="11" fill="#000"/>
<rect x="521" y="863" width="1" height="4" fill="#000"/>
<rect x="538" y="863" width="1" height="4" fill="#000"/>
<rect x="555" y="863" width="1" height="4" fill="#000"/>
<rect x="572" y="863" width="1" height="4" fill="#000"/>
<rect x="589" y="863" width="1" height="11" fill="#000"/>
<rect x="606" y="863" width="1" height="4" fill="#000"/>
<rect x="624" y="863" width="1" height="4" fill="#000"/>
<rect x="640" y="863" width="1" height="4" fill="#000"/>
<rect x="658" y="863" width="1" height="4" fill="#000"/>
<rect x="675" y="863" width="1" height="11" fill="#000"/>
<rect x="692" y="863" width="1" height="4" fill="#000"/>
<rect x="709" y="863" width="1" height="4" fill="#000"/>
<rect x="726" y="863" width="1" height="4" fill="#000"/>
<rect x="743" y="863" width="1" height="4" fill="#000"/>
<rect x="761" y="863" width="1" height="11" fill="#000"/>
<rect x="778" y="863" width="1" height="4" fill="#000"/>
<rect x="795" y="863" width="1" height="4" fill="#000"/>
<rect x="812" y="863" width="1" height="4" fill="#000"/>
<rect x="829" y="863" width="1" height="22" fill="#000"/>
<rect x="846" y="863" width="1" height="11" fill="#000"/>
<rect x="863" y="863" width="1" height="4" fill="#000"/>
<rect x="880" y="863" width="1" height="4" fill="#000"/>
<rect x="897" y="863" width="1" height="4" fill="#000"/>
<rect x="914" y="863" width="1" height="4" fill="#000"/>
<rect x="931" y="863" width="1" height="11" fill="#000"/>
<rect x="949" y="863" width="1" height="4" fill="#000"/>
<rect x="965" y="863" width="1" height="4" fill="#000"/>
<rect x="983" y="863" width="1" height="4" fill="#000"/>
<rect x="1000" y="863" width="1" height="4" fill="#000"/>
<rect x="1017" y="863" width="1" height="11" fill="#000"/>
<rect x="1034" y="863" width="1" height="4" fill="#000"/>
<rect x="1051" y="863" width="1" height="4" fill="#000"/>
<rect x="1068" y="863" width="1" height="4" fill="#000"/>
<rect x="1085" y="863" width="1" height="4" fill="#000"/>
<rect x="1102" y="863" width="1" height="11" fill="#000"/>
<rect x="1119" y="863" width="1" height="4" fill="#000"/>
<rect x="1137" y="863" width="1" height="4" fill="#000"/>
<rect x="1154" y="863" width="1" height="4" fill="#000"/>
<rect x="1171" y="863" width="1" height="22" fill="#000"/>
<rect x="1188" y="863" width="1" height="11" fill="#000"/>
<rect x="1205" y="863" width="1" height="4" fill="#000"/>
<rect x="1222" y="863" width="1" height="4" fill="#000"/>
<rect x="1239" y="863" width="1" height="4" fill="#000"/>
<rect x="1256" y="863" width="1" height="4" fill="#000"/>
<rect x="1274" y="863" width="1" height="11" fill="#000"/>
<rect x="1290" y="863" width="1" height="4" fill="#000"/>
<rect x="1308" y="863" width="1" height="4" fill="#000"/>
<rect x="1325" y="863" width="1" height="4" fill="#000"/>
<rect x="1342" y="863" width="1" height="4" fill="#000"/>
<rect x="1359" y="863" width="1" height="11" fill="#000"/>
<rect x="1376" y="863" width="1" height="4" fill="#000"/>
<rect x="1393" y="863" width="1" height="4" fill="#000"/>
<rect x="1410" y="863" width="1" height="4" fill="#000"/>
<rect x="1427" y="863" width="1" height="4" fill="#000"/>
<rect x="1444" y="863" width="1" height="11" fill="#000"/>
<rect x="1462" y="863" width="1" height="4" fill="#000"/>
<rect x="1478" y="863" width="1" height="4" fill="#000"/>
<rect x="1496" y="863" width="1" height="4" fill="#000"/>
<rect x="1512" y="863" width="1" height="22" fill="#000"/>
<rect x="1530" y="863" width="1" height="4" fill="#000"/>
<rect x="1547" y="863" width="1" height="4" fill="#000"/>
<rect x="1564" y="863" width="1" height="4" fill="#000"/>
<rect x="1581" y="863" width="1" height="11" fill="#000"/>
<rect x="1599" y="863" width="1" height="4" fill="#000"/>
<rect x="1615" y="863" width="1" height="4" fill="#000"/>
<rect x="1633" y="863" width="1" height="4" fill="#000"/>
<rect x="1649" y="863" width="1" height="4" fill="#000"/>
<rect x="1667" y="863" width="1" height="11" fill="#000"/>
<rect x="1684" y="863" width="1" height="4" fill="#000"/>
<rect x="1701" y="863" width="1" height="4" fill="#000"/>
<rect x="1718" y="863" width="1" height="4" fill="#000"/>
<rect x="1735" y="863" width="1" height="4" fill="#000"/>
<rect x="1752" y="863" width="1" height="11" fill="#000"/>
<rect x="1769" y="863" width="1" height="4" fill="#000"/>
<rect x="1786" y="863" width="1" height="4" fill="#000"/>
<rect x="1803" y="863" width="1" height="4" fill="#000"/>
<rect x="1820" y="863" width="1" height="4" fill="#000"/>
<rect x="1837" y="863" width="1" height="11" fill="#000"/>
<g font-family="Liberation Sans, sans-serif" font-size="9.7px" fill="#000">
<clipPath id="cp"><rect x="0" y="0" width="1847" height="885"/></clipPath>
<g clip-path="url(#cp)">
<g fill="#000"><use href="#d2" x="43" y="865"/><use href="#d6" x="48" y="865"/></g>
<g fill="#000"><use href="#d3" x="129" y="865"/></g>
<g fill="#000"><use href="#d1" x="215" y="865"/><use href="#d0" x="220" y="865"/></g>
<g fill="#000"><use href="#d1" x="301" y="865"/><use href="#d7" x="306" y="865"/></g>
<g fill="#000"><use href="#d2" x="386" y="865"/><use href="#d4" x="391" y="865"/></g>
<g fill="#000"><use href="#d3" x="437" y="865"/><use href="#d1" x="442" y="865"/></g>
<g fill="#000"><use href="#d7" x="506" y="865"/></g>
<g fill="#000"><use href="#d1" x="591" y="865"/><use href="#d4" x="596" y="865"/></g>
<g fill="#000"><use href="#d2" x="677" y="865"/><use href="#d1" x="682" y="865"/></g>
<g fill="#000"><use href="#d2" x="763" y="865"/><use href="#d8" x="768" y="865"/></g>
<g fill="#000"><use href="#d4" x="848" y="865"/></g>
<g fill="#000"><use href="#d1" x="933" y="865"/><use href="#d1" x="938" y="865"/></g>
<g fill="#000"><use href="#d1" x="1019" y="865"/><use href="#d8" x="1024" y="865"/></g>
<g fill="#000"><use href="#d2" x="1104" y="865"/><use href="#d5" x="1109" y="865"/></g>
<g fill="#000"><use href="#d4" x="1190" y="865"/></g>
<g fill="#000"><use href="#d1" x="1276" y="865"/><use href="#d1" x="1281" y="865"/></g>
<g fill="#000"><use href="#d1" x="1361" y="865"/><use href="#d8" x="1366" y="865"/></g>
<g fill="#000"><use href="#d2" x="1446" y="865"/><use href="#d5" x="1451" y="865"/></g>
<g fill="#000"><use href="#d2" x="1514" y="865"/></g>
<g fill="#000"><use href="#d8" x="1583" y="865"/></g>
<g fill="#000"><use href="#d1" x="1669" y="865"/><use href="#d5" x="1674" y="865"/></g>
<g fill="#000"><use href="#d2" x="1754" y="865"/><use href="#d2" x="1759" y="865"/></g>
<g fill="#000"><use href="#d2" x="1839" y="865"/><use href="#d9" x="1844" y="865"/></g>
<g fill="#000"><use href="#g44" x="130" y="877"/><use href="#g65" x="135" y="877"/><use href="#g63" x="140" y="877"/><use href="#g65" x="145" y="877"/><use href="#g6d" x="150" y="877"/><use href="#g62" x="158" y="877"/><use href="#g65" x="163" y="877"/><use href="#g72" x="168" y="877"/></g>
<g fill="#000"><use href="#d2" x="454" y="877"/><use href="#d0" x="459" y="877"/><use href="#d1" x="464" y="877"/><use href="#d3" x="469" y="877"/></g>
<g fill="#000"><use href="#g46" x="831" y="877"/><use href="#g65" x="835" y="877"/><use href="#g62" x="840" y="877"/><use href="#g72" x="845" y="877"/><use href="#g75" x="848" y="877"/><use href="#g61" x="853" y="877"/><use href="#g72" x="858" y="877"/><use href="#g79" x="862" y="877"/></g>
<g fill="#000"><use href="#g4d" x="1172" y="877"/><use href="#g61" x="1179" y="877"/><use href="#g72" x="1184" y="877"/><use href="#g63" x="1187" y="877"/><use href="#g68" x="1191" y="877"/></g>
<g fill="#000"><use href="#g41" x="1514" y="877"/><use href="#g70" x="1519" y="877"/><use href="#g71" x="1524" y="877"/><use href="#g69" x="1527" y="877"/><use href="#g6c" x="1529" y="877"/></g>
</g>
<rect x="1847" y="0" width="1" height="863" fill="#000"/>
<rect x="1848" y="740" width="2" height="1" fill="#000"/>
<rect x="1848" y="732" width="5" height="1" fill="#000"/>
<g fill="#000"><use href="#d9" x="1866" y="730"/><use href="#d5" x="1871" y="730"/><use href="#d0" x="1876" y="730"/></g>
<rect x="1848" y="725" width="2" height="1" fill="#000"/>
<rect x="1848" y="718" width="5" height="1" fill="#000"/>
<g fill="#000"><use href="#d9" x="1866" y="715"/><use href="#d6" x="1871" y="715"/><use href="#d0" x="1876" y="715"/></g>
<rect x="1848" y="711" width="2" height="1" fill="#000"/>
<rect x="1848" y="703" width="5" height="1" fill="#000"/>
<g fill="#000"><use href="#d9" x="1866" y="701"/><use href="#d7" x="1871" y="701"/><use href="#d0" x="1876" y="701"/></g>
<rect x="1848" y="696" width="2" height="1" fill="#000"/>
<rect x="1848" y="689" width="5" height="1" fill="#000"/>
<g fill="#000"><use href="#d9" x="1866" y="686"/><use href="#d8" x="1871" y="686"/><use href="#d0" x="1876" y="686"/></g>
<rect x="1848" y="682" width="2" height="1" fill="#000"/>
<rect x="1848" y="674" width="5" height="1" fill="#000"/>
<g fill="#000"><use href="#d9" x="1866" y="672"/><use href="#d9" x="1871" y="672"/><use href="#d0" x="1876" y="672"/></g>
<rect x="1848" y="667" width="2" height="1" fill="#000"/>
<rect x="1848" y="660" width="5" height="1" fill="#000"/>
<g fill="#000"><use href="#d1" x="1861" y="657"/><use href="#d0" x="1866" y="657"/><use href="#d0" x="1871" y="657"/><use href="#d0" x="1876" y="657"/></g>
<rect x="1848" y="653" width="2" height="1" fill="#000"/>
<rect x="1848" y="645" width="5" height="1" fill="#000"/>
<g fill="#000"><use href="#d1" x="1861" y="643"/><use href="#d0" x="1866" y="643"/><use href="#d1" x="1871" y="643"/><use href="#d0" x="1876" y="643"/></g>
<rect x="1848" y="638" width="2" height="1" fill="#000"/>
<rect x="1848" y="631" width="5" height="1" fill="#000"/>
<g fill="#000"><use href="#d1" x="1861" y="628"/><use href="#d0" x="1866" y="628"/><use href="#d2" x="1871" y="628"/><use href="#d0" x="1876" y="628"/></g>
<rect x="1848" y="624" width="2" height="1" fill="#000"/>
<rect x="1848" y="616" width="5" height="1" fill="#000"/>
<g fill="#000"><use href="#d1" x="1861" y="614"/><use href="#d0" x="1866" y="614"/><use href="#d3" x="1871" y="614"/><use href="#d0" x="1876" y="614"/></g>
<rect x="1848" y="609" width="2" height="1" fill="#000"/>
<rect x="1848" y="602" width="5" height="1" fill="#000"/>
<g fill="#000"><use href="#d1" x="1861" y="599"/><use href="#d0" x="1866" y="599"/><use href="#d4" x="1871" y="599"/><use href="#d0" x="1876" y="599"/></g>
<rect x="1848" y="595" width="2" height="1" fill="#000"/>
<rect x="1848" y="587" width="5" height="1" fill="#000"/>
<g fill="#000"><use href="#d1" x="1861" y="585"/><use href="#d0" x="1866" y="585"/><use href="#d5" x="1871" y="585"/><use href="#d0" x="1876" y="585"/></g>
<rect x="1848" y="580" width="2" height="1" fill="#000"/>
<rect x="1848" y="573" width="5" height="1" fill="#000"/>
<g fill="#000"><use href="#d1" x="1861" y="570"/><use href="#d0" x="1866" y="570"/><use href="#d6" x="1871" y="570"/><use href="#d0" x="1876" y="570"/></g>
<rect x="1848" y="566" width="2" height="1" fill="#000"/>
<rect x="1848" y="558" width="5" height="1" fill="#000"/>
<g fill="#000"><use href="#d1" x="1861" y="556"/><use href="#d0" x="1866" y="556"/><use href="#d7" x="1871" y="556"/><use href="#d0" x="1876" y="556"/></g>
<rect x="1848" y="551" width="2" height="1" fill="#000"/>
<rect x="1848" y="544" width="5" height="1" fill="#000"/>
<g fill="#000"><use href="#d1" x="1861" y="541"/><use href="#d0" x="1866" y="541"/><use href="#d8" x="1871" y="541"/><use href="#d0" x="1876" y="541"/></g>
<rect x="1848" y="537" width="2" height="1" fill="#000"/>
<rect x="1848" y="529" width="5" height="1" fill="#000"/>
<g fill="#000"><use href="#d1" x="1861" y="527"/><use href="#d0" x="1866" y="527"/><use href="#d9" x="1871" y="527"/><use href="#d0" x="1876" y="527"/></g>
<rect x="1848" y="522" width="2" height="1" fill="#000"/>
<rect x="1848" y="515" width="5" height="1" fill="#000"/>
<g fill="#000"><use href="#d1" x="1861" y="512"/><use href="#d1" x="1866" y="512"/><use href="#d0" x="1871" y="512"/><use href="#d0" x="1876" y="512"/></g>
<rect x="1848" y="508" width="2" height="1" fill="#000"/>
<rect x="1848" y="500" width="5" height="1" fill="#000"/>
<g fill="#000"><use href="#d1" x="1861" y="498"/><use href="#d1" x="1866" y="498"/><use href="#d1" x="1871" y="498"/><use href="#d0" x="1876" y="498"/></g>
<rect x="1848" y="493" width="2" height="1" fill="#000"/>
<rect x="1848" y="486" width="5" height="1" fill="#000"/>
<g fill="#000"><use href="#d1" x="1861" y="483"/><use href="#d1" x="1866" y="483"/><use href="#d2" x="1871" y="483"/><use href="#d0" x="1876" y="483"/></g>
<rect x="1848" y="479" width="2" height="1" fill="#000"/>
<rect x="1848" y="471" width="5" height="1" fill="#000"/>
<g fill="#000"><use href="#d1" x="1861" y="469"/><use href="#d1" x="1866" y="469"/><use href="#d3" x="1871" y="469"/><use href="#d0" x="1876" y="469"/></g>
<rect x="1848" y="464" width="2" height="1" fill="#000"/>
<rect x="1848" y="457" width="5" height="1" fill="#000"/>
<g fill="#000"><use href="#d1" x="1861" y="454"/><use href="#d1" x="1866" y="454"/><use href="#d4" x="1871" y="454"/><use href="#d0" x="1876" y="454"/></g>
<rect x="1848" y="450" width="2" height="1" fill="#000"/>
<rect x="1848" y="442" width="5" height="1" fill="#000"/>
<g fill="#000"><use href="#d1" x="1861" y="440"/><use href="#d1" x="1866" y="440"/><use href="#d5" x="1871" y="440"/><use href="#d0" x="1876" y="440"/></g>
<rect x="1848" y="435" width="2" height="1" fill="#000"/>
<rect x="1848" y="428" width="5" height="1" fill="#000"/>
<g fill="#000"><use href="#d1" x="1861" y="425"/><use href="#d1" x="1866" y="425"/><use href="#d6" x="1871" y="425"/><use href="#d0" x="1876" y="425"/></g>
<rect x="1848" y="421" width="2" height="1" fill="#000"/>
<rect x="1848" y="413" width="5" height="1" fill="#000"/>
<g fill="#000"><use href="#d1" x="1861" y="411"/><use href="#d1" x="1866" y="411"/><use href="#d7" x="1871" y="411"/><use href="#d0" x="1876" y="411"/></g>
<rect x="1848" y="406" width="2" height="1" fill="#000"/>
<rect x="1848" y="399" width="5" height="1" fill="#000"/>
<g fill="#000"><use href="#d1" x="1861" y="396"/><use href="#d1" x="1866" y="396"/><use href="#d8" x="1871" y="396"/><use href="#d0" x="1876" y="396"/></g>
<rect x="1848" y="392" width="2" height="1" fill="#000"/>
<rect x="1848" y="384" width="5" height="1" fill="#000"/>
<g fill="#000"><use href="#d1" x="1861" y="382"/><use href="#d1" x="1866" y="382"/><use href="#d9" x="1871" y="382"/><use href="#d0" x="1876" y="382"/></g>
<rect x="1848" y="377" width="2" height="1" fill="#000"/>
<rect x="1848" y="370" width="5" height="1" fill="#000"/>
<g fill="#000"><use href="#d1" x="1861" y="367"/><use href="#d2" x="1866" y="367"/><use href="#d0" x="1871" y="367"/><use href="#d0" x="1876" y="367"/></g>
<rect x="1848" y="363" width="2" height="1" fill="#000"/>
<rect x="1848" y="355" width="5" height="1" fill="#000"/>
<g fill="#000"><use href="#d1" x="1861" y="353"/><use href="#d2" x="1866" y="353"/><use href="#d1" x="1871" y="353"/><use href="#d0" x="1876" y="353"/></g>
<rect x="1848" y="348" width="2" height="1" fill="#000"/>
<rect x="1848" y="341" width="5" height="1" fill="#000"/>
<g fill="#000"><use href="#d1" x="1861" y="338"/><use href="#d2" x="1866" y="338"/><use href="#d2" x="1871" y="338"/><use href="#d0" x="1876" y="338"/></g>
<rect x="1848" y="334" width="2" height="1" fill="#000"/>
<rect x="1848" y="326" width="5" height="1" fill="#000"/>
<g fill="#000"><use href="#d1" x="1861" y="324"/><use href="#d2" x="1866" y="324"/><use href="#d3" x="1871" y="324"/><use href="#d0" x="1876" y="324"/></g>
<rect x="1848" y="319" width="2" height="1" fill="#000"/>
<rect x="1848" y="312" width="5" height="1" fill="#000"/>
<g fill="#000"><use href="#d1" x="1861" y="309"/><use href="#d2" x="1866" y="309"/><use href="#d4" x="1871" y="309"/><use href="#d0" x="1876" y="309"/></g>
<rect x="1848" y="305" width="2" height="1" fill="#000"/>
<rect x="1848" y="297" width="5" height="1" fill="#000"/>
<g fill="#000"><use href="#d1" x="1861" y="295"/><use href="#d2" x="1866" y="295"/><use href="#d5" x="1871" y="295"/><use href="#d0" x="1876" y="295"/></g>
<rect x="1848" y="290" width="2" height="1" fill="#000"/>
<rect x="1848" y="283" width="5" height="1" fill="#000"/>
<g fill="#000"><use href="#d1" x="1861" y="280"/><use href="#d2" x="1866" y="280"/><use href="#d6" x="1871" y="280"/><use href="#d0" x="1876" y="280"/></g>
<rect x="1848" y="276" width="2" height="1" fill="#000"/>
<rect x="1848" y="268" width="5" height="1" fill="#000"/>
<g fill="#000"><use href="#d1" x="1861" y="266"/><use href="#d2" x="1866" y="266"/><use href="#d7" x="1871" y="266"/><use href="#d0" x="1876" y="266"/></g>
<rect x="1848" y="261" width="2" height="1" fill="#000"/>
<rect x="1848" y="254" width="5" height="1" fill="#000"/>
<g fill="#000"><use href="#d1" x="1861" y="251"/><use href="#d2" x="1866" y="251"/><use href="#d8" x="1871" y="251"/><use href="#d0" x="1876" y="251"/></g>
<rect x="1848" y="247" width="2" height="1" fill="#000"/>
<rect x="1848" y="239" width="5" height="1" fill="#000"/>
<g fill="#000"><use href="#d1" x="1861" y="237"/><use href="#d2" x="1866" y="237"/><use href="#d9" x="1871" y="237"/><use href="#d0" x="1876" y="237"/></g>
<rect x="1848" y="232" width="2" height="1" fill="#000"/>
<rect x="1848" y="225" width="5" height="1" fill="#000"/>
<g fill="#000"><use href="#d1" x="1861" y="222"/><use href="#d3" x="1866" y="222"/><use href="#d0" x="1871" y="222"/><use href="#d0" x="1876" y="222"/></g>
<rect x="1848" y="218" width="2" height="1" fill="#000"/>
<rect x="1848" y="210" width="5" height="1" fill="#000"/>
<g fill="#000"><use href="#d1" x="1861" y="208"/><use href="#d3" x="1866" y="208"/><use href="#d1" x="1871" y="208"/><use href="#d0" x="1876" y="208"/></g>
<rect x="1848" y="203" width="2" height="1" fill="#000"/>
<rect x="1848" y="196" width="5" height="1" fill="#000"/>
<g fill="#000"><use href="#d1" x="1861" y="193"/><use href="#d3" x="1866" y="193"/><use href="#d2" x="1871" y="193"/><use href="#d0" x="1876" y="193"/></g>
<rect x="1848" y="188" width="2" height="1" fill="#000"/>
<rect x="1848" y="181" width="5" height="1" fill="#000"/>
<g fill="#000"><use href="#d1" x="1861" y="179"/><use href="#d3" x="1866" y="179"/><use href="#d3" x="1871" y="179"/><use href="#d0" x="1876" y="179"/></g>
<rect x="1848" y="174" width="2" height="1" fill="#000"/>
<rect x="1848" y="167" width="5" height="1" fill="#000"/>
<g fill="#000"><use href="#d1" x="1861" y="164"/><use href="#d3" x="1866" y="164"/><use href="#d4" x="1871" y="164"/><use href="#d0" x="1876" y="164"/></g>
<rect x="1848" y="159" width="2" height="1" fill="#000"/>
<rect x="1848" y="152" width="5" height="1" fill="#000"/>
<g fill="#000"><use href="#d1" x="1861" y="150"/><use href="#d3" x="1866" y="150"/><use href="#d5" x="1871" y="150"/><use href="#d0" x="1876" y="150"/></g>
<rect x="1848" y="145" width="2" height="1" fill="#000"/>
<rect x="1848" y="138" width="5" height="1" fill="#000"/>
<g fill="#000"><use href="#d1" x="1861" y="135"/><use href="#d3" x="1866" y="135"/><use href="#d6" x="1871" y="135"/><use href="#d0" x="1876" y="135"/></g>
<rect x="1848" y="130" width="2" height="1" fill="#000"/>
<rect x="1848" y="123" width="5" height="1" fill="#000"/>
<g fill="#000"><use href="#d1" x="1861" y="121"/><use href="#d3" x="1866" y="121"/><use href="#d7" x="1871" y="121"/><use href="#d0" x="1876" y="121"/></g>
<rect x="1848" y="116" width="2" height="1" fill="#000"/>
<rect x="1848" y="109" width="5" height="1" fill="#000"/>
<g fill="#000"><use href="#d1" x="1861" y="106"/><use href="#d3" x="1866" y="106"/><use href="#d8" x="1871" y="106"/><use href="#d0" x="1876" y="106"/></g>
<rect x="1848" y="101" width="2" height="1" fill="#000"/>
<rect x="1848" y="94" width="5" height="1" fill="#000"/>
<g fill="#000"><use href="#d1" x="1861" y="92"/><use href="#d3" x="1866" y="92"/><use href="#d9" x="1871" y="92"/><use href="#d0" x="1876" y="92"/></g>
<rect x="1848" y="87" width="2" height="1" fill="#000"/>
<rect x="1848" y="80" width="5" height="1" fill="#000"/>
<g fill="#000"><use href="#d1" x="1861" y="77"/><use href="#d4" x="1866" y="77"/><use href="#d0" x="1871" y="77"/><use href="#d0" x="1876" y="77"/></g>
<rect x="1848" y="72" width="2" height="1" fill="#000"/>
<rect x="1848" y="65" width="5" height="1" fill="#000"/>
<g fill="#000"><use href="#d1" x="1861" y="63"/><use href="#d4" x="1866" y="63"/><use href="#d1" x="1871" y="63"/><use href="#d0" x="1876" y="63"/></g>
<rect x="1848" y="58" width="2" height="1" fill="#000"/>
<rect x="1848" y="51" width="5" height="1" fill="#000"/>
<g fill="#000"><use href="#d1" x="1861" y="48"/><use href="#d4" x="1866" y="48"/><use href="#d2" x="1871" y="48"/><use href="#d0" x="1876" y="48"/></g>
<rect x="1848" y="43" width="2" height="1" fill="#000"/>
<rect x="1848" y="36" width="5" height="1" fill="#000"/>
<g fill="#000"><use href="#d1" x="1861" y="34"/><use href="#d4" x="1866" y="34"/><use href="#d3" x="1871" y="34"/><use href="#d0" x="1876" y="34"/></g>
<rect x="1848" y="29" width="2" height="1" fill="#000"/>
<rect x="1848" y="22" width="5" height="1" fill="#000"/>
<g fill="#000"><use href="#d1" x="1861" y="19"/><use href="#d4" x="1866" y="19"/><use href="#d4" x="1871" y="19"/><use href="#d0" x="1876" y="19"/></g>
<rect x="1848" y="14" width="2" height="1" fill="#000"/>
<rect x="1848" y="7" width="5" height="1" fill="#000"/>
<g fill="#000"><use href="#d1" x="1861" y="5"/><use href="#d4" x="1866" y="5"/><use href="#d5" x="1871" y="5"/><use href="#d0" x="1876" y="5"/></g>
<rect x="1848" y="0" width="2" height="1" fill="#000"/>
<rect x="1848" y="857" width="2" height="1" fill="#000"/>
<rect x="1848" y="850" width="5" height="1" fill="#000"/>
<g fill="#000"><use href="#d1" x="1856" y="848"/><use href="#d0" x="1861" y="848"/><use href="#d0" x="1866" y="848"/><use href="#d0" x="1871" y="848"/><use href="#d0" x="1876" y="848"/></g>
<rect x="1848" y="843" width="2" height="1" fill="#000"/>
<rect x="1848" y="836" width="5" height="1" fill="#000"/>
<g fill="#000"><use href="#d2" x="1856" y="834"/><use href="#d0" x="1861" y="834"/><use href="#d0" x="1866" y="834"/><use href="#d0" x="1871" y="834"/><use href="#d0" x="1876" y="834"/></g>
<rect x="1848" y="829" width="2" height="1" fill="#000"/>
<rect x="1848" y="822" width="5" height="1" fill="#000"/>
<g fill="#000"><use href="#d3" x="1856" y="820"/><use href="#d0" x="1861" y="820"/><use href="#d0" x="1866" y="820"/><use href="#d0" x="1871" y="820"/><use href="#d0" x="1876" y="820"/></g>
<rect x="1848" y="816" width="2" height="1" fill="#000"/>
<rect x="1848" y="809" width="5" height="1" fill="#000"/>
<g fill="#000"><use href="#d4" x="1856" y="806"/><use href="#d0" x="1861" y="806"/><use href="#d0" x="1866" y="806"/><use href="#d0" x="1871" y="806"/><use href="#d0" x="1876" y="806"/></g>
<rect x="1848" y="802" width="2" height="1" fill="#000"/>
<rect x="1848" y="795" width="5" height="1" fill="#000"/>
<g fill="#000"><use href="#d5" x="1856" y="793"/><use href="#d0" x="1861" y="793"/><use href="#d0" x="1866" y="793"/><use href="#d0" x="1871" y="793"/><use href="#d0" x="1876" y="793"/></g>
<rect x="1848" y="788" width="2" height="1" fill="#000"/>
<rect x="1848" y="781" width="5" height="1" fill="#000"/>
<g fill="#000"><use href="#d6" x="1856" y="779"/><use href="#d0" x="1861" y="779"/><use href="#d0" x="1866" y="779"/><use href="#d0" x="1871" y="779"/><use href="#d0" x="1876" y="779"/></g>
<rect x="1848" y="774" width="2" height="1" fill="#000"/>
<rect x="1848" y="768" width="5" height="1" fill="#000"/>
<g fill="#000"><use href="#d7" x="1856" y="765"/><use href="#d0" x="1861" y="765"/><use href="#d0" x="1866" y="765"/><use href="#d0" x="1871" y="765"/><use href="#d0" x="1876" y="765"/></g>
<rect x="1848" y="761" width="2" height="1" fill="#000"/>
<rect x="1848" y="754" width="5" height="1" fill="#000"/>
<g fill="#000"><use href="#d8" x="1856" y="751"/><use href="#d0" x="1861" y="751"/><use href="#d0" x="1866" y="751"/><use href="#d0" x="1871" y="751"/><use href="#d0" x="1876" y="751"/></g>
<rect x="1848" y="747" width="2" height="1" fill="#000"/>
<path fill="#000" d="M1849 854h14v1h-14zM1849 855h1v8h-1zM1862 855h1v8h-1zM1850 857h1v1h-1zM1852 857h1v1h-1zM1851 858h1v1h-1zM1850 859h1v1h-1zM1852 859h1v1h-1zM1855 855h1v5h-1zM1854 856h1v1h-1zM1858 855h2v1h-2zM1857 856h1v3h-1zM1860 856h1v3h-1zM1858 859h2v1h-2z"/>
<g fill="#000"><use href="#g44" x="805" y="3"/><use href="#g49" x="811" y="3"/><use href="#g41" x="813" y="3"/><use href="#g4c" x="819" y="3"/><use href="#g49" x="823" y="3"/><use href="#g47" x="825" y="3"/><use href="#g48" x="831" y="3"/><use href="#g54" x="837" y="3"/><use href="#g28" x="845" y="3"/><use href="#g31" x="849" y="3"/><use href="#g2c" x="854" y="3"/><use href="#g32" x="856" y="3"/><use href="#g37" x="860" y="3"/><use href="#g37" x="865" y="3"/><use href="#g2e" x="871" y="3"/><use href="#g39" x="873" y="3"/><use href="#g38" x="878" y="3"/><use href="#g2c" x="884" y="3"/><use href="#g31" x="889" y="3"/><use href="#g2c" x="893" y="3"/><use href="#g32" x="895" y="3"/><use href="#g37" x="900" y="3"/><use href="#g37" x="905" y="3"/><use href="#g2e" x="911" y="3"/><use href="#g39" x="913" y="3"/><use href="#g38" x="918" y="3"/><use href="#g2c" x="924" y="3"/><use href="#g31" x="928" y="3"/><use href="#g2c" x="933" y="3"/><use href="#g32" x="935" y="3"/><use href="#g34" x="940" y="3"/><use href="#g32" x="945" y="3"/><use href="#g2e" x="951" y="3"/><use href="#g34" x="953" y="3"/><use href="#g30" x="958" y="3"/><use href="#g2c" x="963" y="3"/><use href="#g31" x="968" y="3"/><use href="#g2c" x="973" y="3"/><use href="#g32" x="975" y="3"/><use href="#g35" x="980" y="3"/><use href="#g30" x="985" y="3"/><use href="#g2e" x="991" y="3"/><use href="#g30" x="993" y="3"/><use href="#g30" x="997" y="3"/><use href="#g2c" x="1003" y="3"/><use href="#g2d" x="1007" y="3"/><use href="#g31" x="1011" y="3"/><use href="#g35" x="1015" y="3"/><use href="#g2e" x="1021" y="3"/><use href="#g30" x="1023" y="3"/><use href="#g30" x="1027" y="3"/><use href="#g30" x="1032" y="3"/><use href="#g30" x="1037" y="3"/><use href="#g29" x="1042" y="3"/></g>
</g>
<g fill="#0000ff"><use href="#g69" x="1515" y="374"/><use href="#g66" x="1517" y="374"/><use href="#g74" x="1522" y="374"/><use href="#g68" x="1526" y="374"/><use href="#g69" x="1531" y="374"/><use href="#g73" x="1533" y="374"/><use href="#g74" x="1539" y="374"/><use href="#g72" x="1543" y="374"/><use href="#g65" x="1547" y="374"/><use href="#g6e" x="1552" y="374"/><use href="#g64" x="1556" y="374"/><use href="#g6c" x="1563" y="374"/><use href="#g69" x="1565" y="374"/><use href="#g6e" x="1567" y="374"/><use href="#g65" x="1571" y="374"/><use href="#g62" x="1578" y="374"/><use href="#g72" x="1582" y="374"/><use href="#g65" x="1586" y="374"/><use href="#g61" x="1591" y="374"/><use href="#g6b" x="1596" y="374"/><use href="#g73" x="1600" y="374"/></g>
<g fill="#0000ff"><use href="#g74" x="1514" y="385"/><use href="#g68" x="1518" y="385"/><use href="#g65" x="1523" y="385"/><use href="#g6e" x="1528" y="385"/><use href="#g74" x="1535" y="385"/><use href="#g68" x="1539" y="385"/><use href="#g69" x="1544" y="385"/><use href="#g73" x="1546" y="385"/><use href="#g63" x="1553" y="385"/><use href="#g6f" x="1557" y="385"/><use href="#g75" x="1562" y="385"/><use href="#g6c" x="1567" y="385"/><use href="#g64" x="1569" y="385"/><use href="#g73" x="1576" y="385"/><use href="#g69" x="1581" y="385"/><use href="#g67" x="1583" y="385"/><use href="#g6e" x="1588" y="385"/><use href="#g61" x="1593" y="385"/><use href="#g6c" x="1598" y="385"/></g>
<g fill="#0000ff"><use href="#g6c" x="1515" y="396"/><use href="#g6f" x="1517" y="396"/><use href="#g77" x="1522" y="396"/><use href="#g65" x="1529" y="396"/><use href="#g72" x="1534" y="396"/><use href="#g70" x="1540" y="396"/><use href="#g72" x="1544" y="396"/><use href="#g69" x="1548" y="396"/><use href="#g63" x="1550" y="396"/><use href="#g65" x="1555" y="396"/><use href="#g73" x="1559" y="396"/><use href="#g2e" x="1565" y="396"/></g>
<g fill="#0000ff"><use href="#g49" x="1516" y="406"/><use href="#g66" x="1518" y="406"/><use href="#g74" x="1524" y="406"/><use href="#g68" x="1527" y="406"/><use href="#g69" x="1532" y="406"/><use href="#g73" x="1534" y="406"/><use href="#g66" x="1541" y="406"/><use href="#g69" x="1545" y="406"/><use href="#g6e" x="1547" y="406"/><use href="#g69" x="1551" y="406"/><use href="#g73" x="1553" y="406"/><use href="#g68" x="1558" y="406"/><use href="#g65" x="1563" y="406"/><use href="#g73" x="1568" y="406"/><use href="#g62" x="1574" y="406"/><use href="#g65" x="1579" y="406"/><use href="#g6c" x="1584" y="406"/><use href="#g6f" x="1586" y="406"/><use href="#g77" x="1590" y="406"/><use href="#g31" x="1601" y="406"/><use href="#g32" x="1605" y="406"/><use href="#g34" x="1609" y="406"/><use href="#g34" x="1614" y="406"/></g>
<g fill="#0000ff"><use href="#g74" x="1514" y="417"/><use href="#g68" x="1518" y="417"/><use href="#g65" x="1523" y="417"/><use href="#g6e" x="1528" y="417"/><use href="#g74" x="1535" y="417"/><use href="#g68" x="1539" y="417"/><use href="#g69" x="1544" y="417"/><use href="#g73" x="1546" y="417"/><use href="#g73" x="1553" y="417"/><use href="#g68" x="1558" y="417"/><use href="#g6f" x="1562" y="417"/><use href="#g75" x="1567" y="417"/><use href="#g6c" x="1572" y="417"/><use href="#g64" x="1574" y="417"/><use href="#g73" x="1581" y="417"/><use href="#g69" x="1586" y="417"/><use href="#g67" x="1588" y="417"/><use href="#g6e" x="1593" y="417"/><use href="#g61" x="1598" y="417"/><use href="#g6c" x="1603" y="417"/><use href="#g61" x="1607" y="417"/></g>
<g fill="#0000ff"><use href="#g64" x="1515" y="428"/><use href="#g6f" x="1520" y="428"/><use href="#g77" x="1524" y="428"/><use href="#g6e" x="1532" y="428"/><use href="#g6d" x="1538" y="428"/><use href="#g6f" x="1546" y="428"/><use href="#g76" x="1551" y="428"/><use href="#g65" x="1556" y="428"/></g>
</svg>
</body></html>
